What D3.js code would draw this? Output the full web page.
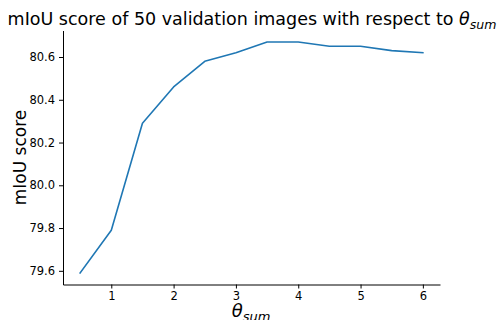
<!DOCTYPE html>
<html>
<head>
<meta charset="utf-8">
<script src="https://cdn.jsdelivr.net/npm/d3@7"></script>
<style>
  html, body { margin: 0; padding: 0; background: #fff; }
  svg { display: block; font-family: "DejaVu Sans", sans-serif; }
</style>
</head>
<body>
<svg id="chart" width="500" height="320"></svg>
<script>
// θ_sum values and the resulting mIoU scores
const thetaSum = [0.5, 1, 1.5, 2, 2.5, 3, 3.5, 4, 4.5, 5, 5.5, 6];
const miou = [79.59, 79.79, 80.29, 80.46, 80.58, 80.62, 80.67, 80.67, 80.65, 80.65, 80.63, 80.62];
const xTicks = [1, 2, 3, 4, 5, 6];
const yTicks = [79.6, 79.8, 80.0, 80.2, 80.4, 80.6];

const svg = d3.select("#chart");
const plot = { left: 63, right: 440, top: 30.5, bottom: 284.5 };

// 5% padding around the data range on both axes
const xPad = (d3.max(thetaSum) - d3.min(thetaSum)) * 0.05;
const yPad = (d3.max(miou) - d3.min(miou)) * 0.05;
const x = d3.scaleLinear()
  .domain([d3.min(thetaSum) - xPad, d3.max(thetaSum) + xPad])
  .range([plot.left, plot.right]);
const y = d3.scaleLinear()
  .domain([d3.min(miou) - yPad, d3.max(miou) + yPad])
  .range([plot.bottom, plot.top]);

// Axes: only left and bottom spines, outward ticks
const xAxis = svg.append("g")
  .attr("transform", `translate(0,${plot.bottom})`)
  .call(d3.axisBottom(x).tickValues(xTicks).tickFormat(d3.format("d")).tickSizeInner(4).tickSizeOuter(0).tickPadding(3));
const yAxis = svg.append("g")
  .attr("transform", `translate(${plot.left},0)`)
  .call(d3.axisLeft(y).tickValues(yTicks).tickFormat(d3.format(".1f")).tickSizeInner(4).tickSizeOuter(0).tickPadding(4));

[xAxis, yAxis].forEach(g => {
  g.select(".domain").attr("stroke", "#000").attr("stroke-width", 1);
  g.selectAll(".tick line").attr("stroke", "#000").attr("stroke-width", 1);
  g.selectAll(".tick text")
    .attr("fill", "#000")
    .style("font-family", "DejaVu Sans, sans-serif")
    .style("font-size", "11.5px");
});

// Data line
const line = d3.line().x((d, i) => x(thetaSum[i])).y(d => y(d));
svg.append("path")
  .datum(miou)
  .attr("fill", "none")
  .attr("stroke", "#1f77b4")
  .attr("stroke-width", 1.6)
  .attr("stroke-linejoin", "round")
  .attr("stroke-linecap", "square")
  .attr("d", line);

// Title with θ_sum
const title = svg.append("text")
  .attr("x", 252)
  .attr("y", 25)
  .attr("text-anchor", "middle")
  .style("font-size", "17.5px")
  .attr("fill", "#000");
title.append("tspan").text("mIoU score of 50 validation images with respect to ");
title.append("tspan").style("font-style", "italic").text("θ");
title.append("tspan").attr("dy", 3.5).style("font-style", "italic").style("font-size", "12.5px").text("sum");

// Axis labels
svg.append("text")
  .attr("transform", `translate(26,${(plot.top + plot.bottom) / 2}) rotate(-90)`)
  .attr("text-anchor", "middle")
  .style("font-size", "17px")
  .attr("fill", "#000")
  .text("mIoU score");

const xl = svg.append("text")
  .attr("x", 251)
  .attr("y", 317)
  .attr("text-anchor", "middle")
  .style("font-size", "18px")
  .attr("fill", "#000");
xl.append("tspan").style("font-style", "italic").text("θ");
xl.append("tspan").attr("dy", 3.5).style("font-style", "italic").style("font-size", "13px").text("sum");
</script>
</body>
</html>
